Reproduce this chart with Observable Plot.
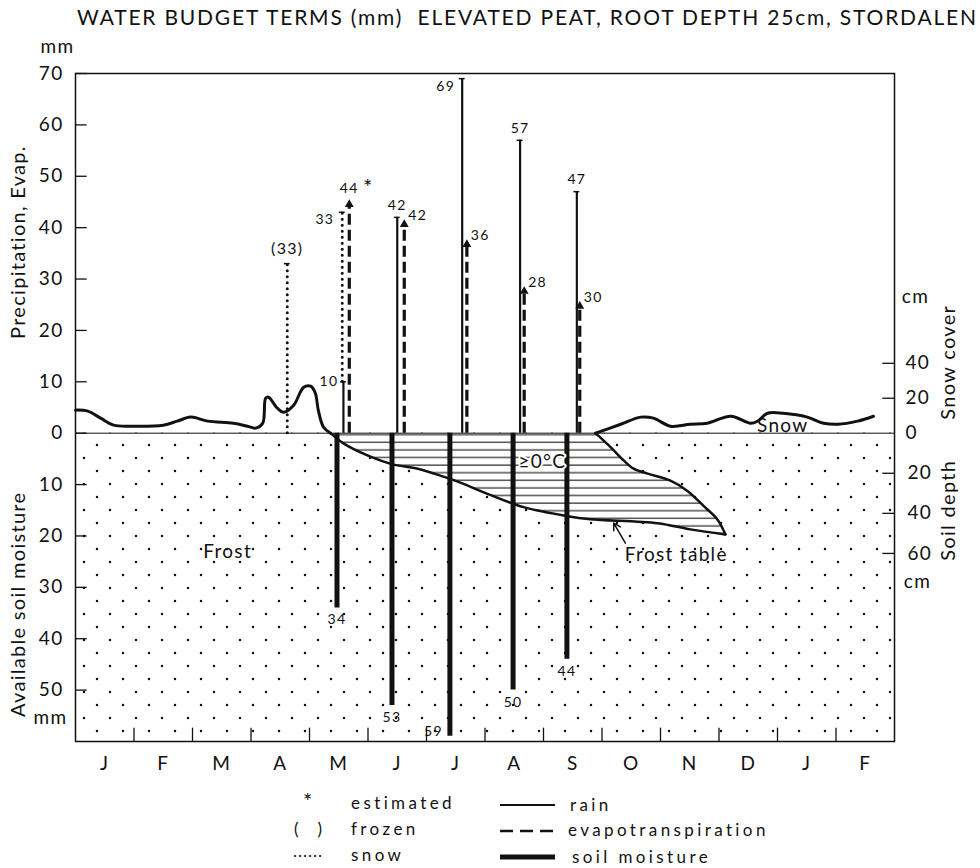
<!DOCTYPE html>
<html><head><meta charset="utf-8">
<script src="https://cdn.jsdelivr.net/npm/d3@7"></script>
<script src="https://cdn.jsdelivr.net/npm/@observablehq/plot@0.6"></script>
<style>
body{margin:0;background:#fff;width:980px;height:868px;position:relative;overflow:hidden;font-family:Lato,"Noto Sans",sans-serif;color:#111}
#title{position:absolute;left:77px;top:4px;font-size:21px;letter-spacing:1.8px;white-space:nowrap}
#chart{position:absolute;left:0;top:36px}
#chart svg text{letter-spacing:1.3px}
#chart svg text.wide{letter-spacing:2px}
.lg{position:absolute;font-size:17px;letter-spacing:3.4px;line-height:20px;white-space:nowrap}
</style></head><body>
<div id="title">WATER BUDGET TERMS (mm)&nbsp;&nbsp;ELEVATED PEAT, ROOT DEPTH 25cm, STORDALEN</div>
<div id="chart"></div>
<div class="lg" style="left:303px;top:791px;font-size:22px">*</div>
<div class="lg" style="left:351px;top:793px">estimated</div>
<div class="lg" style="left:294px;top:819px">(&nbsp;&nbsp;)</div>
<div class="lg" style="left:351px;top:819px">frozen</div>
<div class="lg" style="left:293px;top:841px;letter-spacing:1px">......</div>
<div class="lg" style="left:351px;top:845px">snow</div>
<svg style="position:absolute;left:498px;top:795px" width="62" height="70">
 <line x1="2" x2="57" y1="10" y2="10" stroke="#111" stroke-width="2.2"/>
 <line x1="2" x2="57" y1="36" y2="36" stroke="#111" stroke-width="2.5" stroke-dasharray="13 7"/>
 <line x1="2" x2="57" y1="62" y2="62" stroke="#111" stroke-width="5"/>
</svg>
<div class="lg" style="left:570px;top:795px">rain</div>
<div class="lg" style="left:568px;top:820px">evapotranspiration</div>
<div class="lg" style="left:572px;top:847px">soil moisture</div>
<script>
// ---------- data ----------
const months = ["J","F","M","A","M","J","J","A","S","O","N","D","J","F"];
const leftTicks = [70,60,50,40,30,20,10,0,-10,-20,-30,-40,-50];
const snowTicks = [0,20,40];
const depthTicks = [20,40,60];
const snowK = 0.34;   // mm-units per cm of snow
const depthK = 0.39;  // mm-units per cm of soil depth

const rainMonth = [4.58,5.50,6.61,7.60,8.57];
const rainMm = [10,42,69,57,47];

const etMonth = [4.68,5.62,6.69,7.67,8.62];
const etMm = [44,42,36,28,30];
const etDrawn = [45.3,41.4,37.5,28.4,25.5];

const soilMonth = [4.47,5.41,6.40,7.48,8.40];
const soilMm = [34,53,59,50,44];

const snowMonth = [3.62,4.56];
const snowMm = [33,33];
const snowBase = [0,10];
const snowLabel = ["(33)","33"];

const snowSpringM  = [0,0.21,0.43,0.65,0.99,1.50,1.74,1.97,2.26,2.70,2.94,3.08,3.20,3.25,3.30,3.45,3.56,3.73,3.90,4.02,4.10,4.15,4.24,4.36];
const snowSpringCm = [13.2,12.6,8.6,4.6,4.0,4.6,6.9,9.2,6.9,5.7,4.0,2.9,5.7,20.0,20.6,14.3,12.0,16.0,26.3,26.9,22.9,13.2,3.4,0];
const snowAutumnM  = [8.89,9.32,9.66,9.88,10.17,10.51,10.80,11.20,11.54,11.66,11.83,12.10,12.51,12.79,13.03,13.37,13.64];
const snowAutumnCm = [0,5.1,9.2,8.6,4.0,5.1,5.7,9.7,5.7,6.9,11.4,11.4,9.2,5.7,5.1,6.9,9.7];

const frostTableM  = [4.36,4.58,4.99,5.44,5.85,6.29,6.58,7.09,7.66,8.41,8.80,9.95,10.51,11.11];
const frostTableCm = [0,5.1,11.1,15.7,17.7,21.7,24.7,30.8,36.9,41.4,42.9,44.9,48.0,50.5];
const freezeM  = [8.89,9.15,9.37,9.54,9.78,10.17,10.46,10.74,10.97,11.11];
const freezeCm = [0,7.1,13.6,17.7,20.2,23.7,28.8,36.4,42.9,50.5];

const annotations = [
  {m:2.60, v:-23.2, text:"Frost"},
  {m:10.27, v:-23.7, text:"Frost table"},
  {m:12.09, v:1.5, text:"Snow"}
];
const xDomain = [0,14], yDomain = [-60,70];

// ---------- tables ----------
const rain = rainMonth.map((m,i)=>({m, v:rainMm[i], label:String(rainMm[i]), i}));
const et = etMonth.map((m,i)=>({m, v:etDrawn[i], label:String(etMm[i]), i}));
const soil = soilMonth.map((m,i)=>({m, v:-soilMm[i], label:String(soilMm[i]), i}));
const snow = snowMonth.map((m,i)=>({m, y1:snowBase[i], y2:snowBase[i]+snowMm[i], label:snowLabel[i], i}));
const snowSpring = snowSpringM.map((m,i)=>({m, v:snowSpringCm[i]*snowK}));
const snowAutumn = snowAutumnM.map((m,i)=>({m, v:snowAutumnCm[i]*snowK}));
const frostTable = frostTableM.map((m,i)=>({m, v:-frostTableCm[i]*depthK}));
const freeze = freezeM.map((m,i)=>({m, v:-freezeCm[i]*depthK}));
const thaw = [frostTable[0], ...freeze, ...frostTable.slice(0,-1).reverse()];
const frostBox = [{x1:xDomain[0], x2:xDomain[1], y1:yDomain[0], y2:0}];

const F = 19;
const svg = Plot.plot({
  width: 980, height: 760,
  marginLeft: 75, marginRight: 86, marginTop: 37, marginBottom: 55,
  x: {domain: xDomain, axis: null},
  y: {domain: yDomain, axis: null},
  style: {fontFamily: "Lato, 'Noto Sans', sans-serif", background: "white", color: "#111", overflow: "visible"},
  marks: [
    Plot.rect(frostBox, {x1:"x1", x2:"x2", y1:"y1", y2:"y2", fill:"url(#stip)"}),
    Plot.line(thaw, {x:"m", y:"v", fill:"url(#hatch)", stroke:"none"}),
    Plot.ruleY([0], {strokeWidth: 1}),
    Plot.frame({strokeWidth: 1.5}),
    // axes
    Plot.axisY(leftTicks, {anchor:"left", tickSize:0, tickPadding:12, tickFormat: d => String(Math.abs(d)), fontSize: F}),
    Plot.ruleY(leftTicks, {x1: xDomain[0], x2: 0.2, strokeWidth: 1.3}),
    Plot.axisX(months.map((_, i) => i + 0.5), {anchor:"bottom", tickSize:0, tickPadding:15, tickFormat: d => months[Math.floor(d)], fontSize: F}),
    Plot.ruleX(d3.range(1, 14), {y1: yDomain[0], y2: -57.4, strokeWidth: 1.3}),
    Plot.axisY(snowTicks.map(c => c*snowK), {anchor:"right", tickSize:0, tickPadding:11, tickFormat: d => String(Math.round(d/snowK)), fontSize: F}),
    Plot.axisY(depthTicks.map(c => -c*depthK), {anchor:"right", tickSize:0, tickPadding:13, tickFormat: d => String(Math.round(-d/depthK)), fontSize: F}),
    Plot.ruleY([...snowTicks.filter(c=>c>0).map(c=>c*snowK), ...depthTicks.map(c=>-c*depthK)], {x1: 13.8, x2: xDomain[1], strokeWidth: 1.3}),
    // axis titles
    Plot.text(["Precipitation, Evap."], {x: xDomain[0], y: 37.2, dx: -57, rotate: -90, fontSize: 20, className: "wide"}),
    Plot.text(["Available soil moisture"], {x: xDomain[0], y: -33.3, dx: -57, rotate: -90, fontSize: 20, className: "wide"}),
    Plot.text(["mm"], {x: xDomain[0], y: 75.1, dx: -18, fontSize: F}),
    Plot.text(["mm"], {x: xDomain[0], y: -55.4, dx: -25, fontSize: F}),
    Plot.text(["cm"], {x: xDomain[1], y: 26.5, dx: 21, fontSize: F}),
    Plot.text(["cm"], {x: xDomain[1], y: -29.0, dx: 23, fontSize: F}),
    Plot.text(["Snow cover"], {x: xDomain[1], y: 13.8, dx: 54, rotate: -90, fontSize: 20, className: "wide"}),
    Plot.text(["Soil depth"], {x: xDomain[1], y: -15.0, dx: 54, rotate: -90, fontSize: 20, className: "wide"}),
    // curves
    Plot.line(snowSpring, {x:"m", y:"v", curve:"catmull-rom", strokeWidth: 3}),
    Plot.line(snowAutumn, {x:"m", y:"v", curve:"catmull-rom", strokeWidth: 3}),
    Plot.line(frostTable, {x:"m", y:"v", curve:"catmull-rom", strokeWidth: 2.5}),
    Plot.line(freeze, {x:"m", y:"v", curve:"catmull-rom", strokeWidth: 2.5}),
    // bars
    Plot.ruleX(soil, {x:"m", y1:0, y2:"v", strokeWidth: 5}),
    Plot.ruleX(rain, {x:"m", y1:0, y2:"v", strokeWidth: 2.2}),
    Plot.ruleY(rain, {y:"v", x1: d => d.m - 0.05, x2: d => d.m + 0.05, strokeWidth: 1.5}),
    Plot.ruleX(snow, {x:"m", y1:"y1", y2:"y2", strokeWidth: 3, strokeDasharray: "0 6", strokeLinecap: "round"}),
    Plot.ruleY(snow, {y:"y2", x1: d => d.m - 0.05, x2: d => d.m + 0.05, strokeWidth: 1.5}),
    Plot.ruleX(et, {x:"m", y1:0, y2: d => d.v - 1, strokeWidth: 3.2, strokeDasharray: "11 5"}),
    Plot.dot(et, {x:"m", y:"v", symbol:"triangle", r: 3.3, fill:"#111", stroke:"none", dy: 4}),
    // value labels
    Plot.text(rain.filter(d => [1,3,4].includes(d.i)), {x:"m", y:"v", text:"label", dy:-12, fontSize: 14}),
    Plot.text(rain.filter(d => d.i === 0), {x:"m", y:"v", text:"label", textAnchor:"end", dx:-5, dy:0, fontSize: 14}),
    Plot.text(rain.filter(d => d.i === 2), {x:"m", y:"v", text:"label", textAnchor:"end", dx:-7, dy:8, fontSize: 14}),
    Plot.text(et.filter(d => d.i === 0), {x:"m", y:"v", text:"label", dy:-12, fontSize: 14}),
    Plot.text(et.filter(d => d.i > 0), {x:"m", y:"v", text:"label", textAnchor:"start", dx:4, dy:-5, fontSize: 14}),
    Plot.text(et.filter(d => d.i === 0), {x:"m", y:"v", text: () => "*", dx:19, dy:-12, fontSize: 22}),
    Plot.text(snow.filter(d => d.i === 0), {x:"m", y:"y2", text:"label", dy:-15, fontSize: 16}),
    Plot.text(snow.filter(d => d.i === 1), {x:"m", y:"y2", text:"label", textAnchor:"end", dx:-8, dy:7, fontSize: 14}),
    Plot.text(soil.filter(d => d.i !== 2), {x:"m", y:"v", text:"label", dy:12, fontSize: 14}),
    Plot.text(soil.filter(d => d.i === 2), {x:"m", y:"v", text:"label", textAnchor:"end", dx:-7, dy:-5, fontSize: 14}),
    // annotations
    Plot.text(annotations, {x:"m", y:"v", text:"text", fontSize: 19, className: "wide"}),
    Plot.text(["≥0°C"], {x: 7.98, y: -5.6, fontSize: 19, stroke: "white", strokeWidth: 4, fill: "#111"}),
    Plot.arrow([{x1:9.40, y1:-21.4, x2:9.20, y2:-17.5}], {x1:"x1", y1:"y1", x2:"x2", y2:"y2", strokeWidth: 1.5, headLength: 8})
  ]
});

const defs = d3.select(svg).insert("defs", ":first-child");
const st = defs.append("pattern").attr("id","stip").attr("patternUnits","userSpaceOnUse").attr("width",26).attr("height",26);
st.append("circle").attr("cx",6).attr("cy",6).attr("r",1.25).attr("fill","#111");
st.append("circle").attr("cx",19).attr("cy",19).attr("r",1.25).attr("fill","#111");
const ht = defs.append("pattern").attr("id","hatch").attr("patternUnits","userSpaceOnUse").attr("width",10).attr("height",7.6);
ht.append("rect").attr("width",10).attr("height",7.6).attr("fill","white");
ht.append("line").attr("x1",0).attr("x2",10).attr("y1",3).attr("y2",3).attr("stroke","#111").attr("stroke-width",1.1);

document.getElementById("chart").appendChild(svg);
</script>
</body></html>
